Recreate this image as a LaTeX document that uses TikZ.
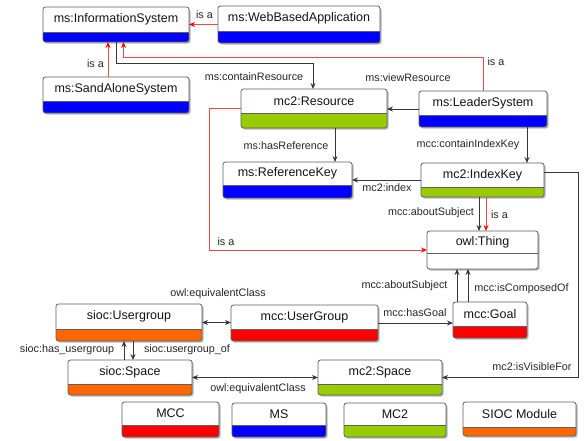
\documentclass[tikz,border=0pt]{standalone}
\usepackage{fontspec}
\setmainfont{Liberation Sans}
\usetikzlibrary{arrows.meta,calc}
\definecolor{cMS}{RGB}{0,0,255}
\definecolor{cMCtwo}{RGB}{153,204,0}
\definecolor{cSIOC}{RGB}{255,102,0}
\definecolor{cMCC}{RGB}{255,0,0}
\definecolor{edgegray}{RGB}{55,55,55}
\definecolor{isared}{RGB}{240,70,70}
\definecolor{bordergray}{RGB}{95,95,95}
\tikzset{
 clsframe/.style={draw=bordergray, line width=0.8pt, rounded corners=2.5pt, inner sep=0pt, outer sep=0pt, anchor=north west},
 clsshadow/.style={fill=black!28, rounded corners=2.5pt},
 clstext/.style={font=\fontsize{12.5}{14}\selectfont, text=black!92, inner sep=0pt},
 lbl/.style={font=\fontsize{10.8}{12}\selectfont, text=black!85, inner sep=0pt},
 rel/.style={draw=edgegray, line width=0.85pt, -{Stealth[length=6pt,width=5pt]}},
 isa/.style={draw=isared, line width=1pt, -{Stealth[length=6pt,width=5pt,color=red]}},
 equiv/.style={draw=edgegray, line width=0.85pt, {Stealth[length=6pt,width=5pt]}-{Stealth[length=6pt,width=5pt]}},
}
\newcommand\clsbox[8]{%
 \fill[clsshadow] (#2+1.5,#3+1.5) rectangle (#4+1.5,#5+1.5);
 \begin{scope}
  \clip[rounded corners=2.5pt] (#2,#3) rectangle (#4,#5);
  \fill[white] (#2,#3) rectangle (#4,#5);
  \fill[#7] (#2,#6) rectangle (#4,#5);
 \end{scope}
 \draw[bordergray, line width=0.8pt] (#2,#6) -- (#4,#6);
 \node[clsframe, minimum width=#4pt-#2pt, minimum height=#5pt-#3pt] (#1) at (#2,#3) {};
 \node[clstext] (#1-t) at ({(#2+#4)/2},{(#3+#6)/2}) {#8};
}
\begin{document}
\begin{tikzpicture}[x=1pt,y=-1pt]
\fill[white] (0,0) rectangle (584,440);
\useasboundingbox (0,0) rectangle (584,440);
% classes
\clsbox{infosys}{43}{7}{189}{42}{32}{cMS}{ms:InformationSystem}
\clsbox{web}{218}{6}{380}{43}{31}{cMS}{ms:WebBasedApplication}
\clsbox{sand}{43}{77}{189}{113}{101}{cMS}{ms:SandAloneSystem}
\clsbox{resource}{241}{89}{387}{128}{113}{cMCtwo}{mc2:Resource}
\clsbox{leader}{419}{91}{547}{127}{115}{cMS}{ms:LeaderSystem}
\clsbox{refkey}{223}{162}{352}{198}{185}{cMS}{ms:ReferenceKey}
\clsbox{indexkey}{421}{163}{544}{197}{187}{cMCtwo}{mc2:IndexKey}
\clsbox{thing}{427}{231}{538}{269}{253}{white}{owl:Thing}
\clsbox{usergroup}{56}{304}{202}{341}{329}{cSIOC}{sioc:Usergroup}
\clsbox{mccug}{231}{305}{378}{341}{329}{cMCC}{mcc:UserGroup}
\clsbox{goal}{453}{302}{527}{338}{326}{cMCC}{mcc:Goal}
\clsbox{space}{68}{360}{192}{395}{384}{cSIOC}{sioc:Space}
\clsbox{mc2space}{318}{360}{442}{395}{384}{cMCtwo}{mc2:Space}
% legend
\clsbox{legmcc}{122}{402}{219}{437}{425}{cMCC}{MCC}
\clsbox{legms}{232}{403}{326}{437}{425}{cMS}{MS}
\clsbox{legmc2}{344}{403}{446}{437}{425}{cMCtwo}{MC2}
\clsbox{legsioc}{463}{402}{576}{436}{427}{cSIOC}{SIOC Module}
% connectors
\draw[isa] (web.west |- 0,24.5) -- (infosys.east);
\draw[isa] ([xshift=-8pt]sand.north) -- ([xshift=-8pt]infosys.south);
\coordinate (lsstart) at ([xshift=0.5pt]leader.north);
\coordinate (lsbend) at ([yshift=33.5pt]lsstart);
\coordinate (istop) at ([xshift=7.5pt]infosys.south);
\draw[isa] (lsstart) -- (lsbend) -- (lsbend -| istop) -- (istop);
\draw[rel] (infosys.south) -- ++(0,21) -| ([xshift=-1pt]resource.north);
\draw[rel] (leader.west) -- (leader.west -| resource.east);
\draw[rel] ([xshift=21pt]resource.south) -- ([xshift=21pt]resource.south |- refkey.north);
\draw[rel] ([xshift=44pt]leader.south) -- ([xshift=44pt]leader.south |- indexkey.north);
\draw[rel] (indexkey.west) -- (indexkey.west -| refkey.east);
\draw[rel] ([xshift=-3.5pt]indexkey.south) -- ([xshift=-3.5pt]indexkey.south |- thing.north);
\draw[isa] ([xshift=3.5pt]indexkey.south) -- ([xshift=3.5pt]indexkey.south |- thing.north);
\draw[isa] (resource.west) -- ++(-31.5,0) |- (thing.west);
\draw[rel] ([yshift=8pt]indexkey.east) -- ++(34,0) |- (mc2space.east);
\draw[rel] ([xshift=-33pt]goal.north) -- ([xshift=-33pt]goal.north |- thing.south);
\draw[rel] ([xshift=-22pt]goal.north) -- ([xshift=-22pt]goal.north |- thing.south);
\draw[rel] (mccug.east) -- (mccug.east -| goal.west);
\draw[equiv] (usergroup.east) -- (usergroup.east -| mccug.west);
\draw[rel] ([xshift=4pt]usergroup.south) -- ([xshift=4pt]usergroup.south |- space.north);
\draw[rel] ([xshift=-6pt]space.north) -- ([xshift=-6pt]space.north |- usergroup.south);
\draw[equiv] (space.east) -- (space.east -| mc2space.west);
% labels
\node[lbl] (l1) at (204.5,15) {is a};
\node[lbl] (l2) at (95.5,64) {is a};
\node[lbl] (l3) at (496,62) {is a};
\node[lbl] (l4) at (254,77) {ms:containResource};
\node[lbl] (l5) at (408,78) {ms:viewResource};
\node[lbl] (l6) at (286,146) {ms:hasReference};
\node[lbl] (l7) at (468,145) {mcc:containIndexKey};
\node[lbl] (l8) at (387,188) {mc2:index};
\node[lbl] (l9) at (431,213) {mcc:aboutSubject};
\node[lbl] (l10) at (499.5,215) {is a};
\node[lbl] (l11) at (226,242) {is a};
\node[lbl] (l12) at (532,367) {mc2:isVisibleFor};
\node[lbl] (l13) at (404.5,286) {mcc:aboutSubject};
\node[lbl] (l14) at (521.5,289) {mcc:isComposedOf};
\node[lbl] (l15) at (415,313) {mcc:hasGoal};
\node[lbl] (l16) at (218,294) {owl:equivalentClass};
\node[lbl] (l17) at (187,350) {sioc:usergroup\_of};
\node[lbl] (l18) at (67,350) {sioc:has\_usergroup};
\node[lbl] (l19) at (258,389) {owl:equivalentClass};
\end{tikzpicture}
\end{document}
